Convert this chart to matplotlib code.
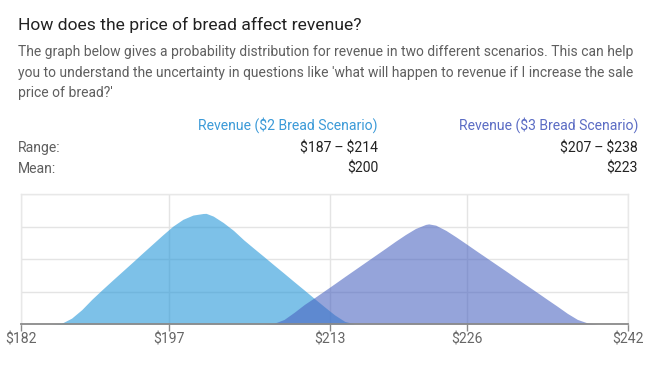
import matplotlib
matplotlib.use("Agg")
import matplotlib.pyplot as plt
from matplotlib.ticker import FixedLocator

plt.rcParams['font.family'] = ['Roboto', 'DejaVu Sans']
plt.rcParams['text.parse_math'] = False

# ---- data ----
title = "How does the price of bread affect revenue?"
subtitle_lines = ["The graph below gives a probability distribution for revenue in two different scenarios. This can help",
                  "you to understand the uncertainty in questions like 'what will happen to revenue if I increase the sale",
                  "price of bread?'"]
series_names = ["Revenue ($2 Bread Scenario)", "Revenue ($3 Bread Scenario)"]
ranges = ["$187\u2009\u2013\u2009$214", "$207\u2009\u2013\u2009$238"]
means = ["$200", "$223"]

x2 = [185, 186, 187, 188, 189, 190, 191, 192, 193, 194, 195, 196, 197, 198, 199, 200, 200.3,
      201, 202, 203, 204, 205, 206, 207, 208, 209, 210, 211, 212, 213, 214, 215]
y2 = [0.0, 0.005, 0.045, 0.11, 0.19, 0.263, 0.334, 0.404, 0.474, 0.545, 0.615, 0.685, 0.752, 0.805, 0.838, 0.85, 0.851,
      0.83, 0.78, 0.72, 0.648, 0.583, 0.519, 0.454, 0.39, 0.325, 0.261, 0.196, 0.132, 0.07, 0.02, 0.0]

x3 = [206, 207, 208, 209, 210, 211, 212, 213, 214, 215, 216, 217, 218, 219, 220, 221, 222, 222.3,
      223, 224, 225, 226, 227, 228, 229, 230, 231, 232, 233, 234, 235, 236, 237, 238, 239]
y3 = [0.0, 0.005, 0.035, 0.09, 0.15, 0.202, 0.256, 0.31, 0.365, 0.419, 0.473, 0.527, 0.581, 0.636, 0.688, 0.735, 0.766, 0.77,
      0.76, 0.72, 0.67, 0.617, 0.563, 0.51, 0.457, 0.404, 0.35, 0.297, 0.244, 0.19, 0.137, 0.082, 0.035, 0.008, 0.0]

tick_values = [182, 196.6, 212.5, 226.1, 242]
tick_labels = ["$182", "$197", "$213", "$226", "$242"]

# ---- figure ----
W, H = 656, 377
fig = plt.figure(figsize=(W / 100, H / 100), dpi=100)

def fx(px):
    return px / W

def fy(py):
    return 1 - py / H

fig.text(fx(18), fy(25), title, fontsize=12.6, color="#222222", va="center", ha="left")
for line, yy in zip(subtitle_lines, [52, 72.5, 93]):
    fig.text(fx(18), fy(yy), line, fontsize=10.0, color="#5f5f5f", va="center", ha="left")

c_blue_txt = "#3b9ad8"
c_purp_txt = "#5b6cc4"
fs = 10.1
fig.text(fx(378), fy(125), series_names[0], fontsize=fs, color=c_blue_txt, ha="right", va="center")
fig.text(fx(638), fy(125), series_names[1], fontsize=fs, color=c_purp_txt, ha="right", va="center")
fig.text(fx(18), fy(148), "Range:", fontsize=fs, color="#5f5f5f", ha="left", va="center")
fig.text(fx(18), fy(169), "Mean:", fontsize=fs, color="#5f5f5f", ha="left", va="center")
for xr, r, m in zip([378, 638], ranges, means):
    fig.text(fx(xr), fy(148), r, fontsize=fs, color="#222222", ha="right", va="center",
             family=["Roboto", "DejaVu Sans"])
    fig.text(fx(xr), fy(169), m, fontsize=fs, color="#222222", ha="right", va="center")

ax = fig.add_axes([fx(21), fy(324), fx(628) - fx(21), fy(194) - fy(324)])
ax.set_xlim(182, 242)
ax.set_ylim(0, 1)

ax.fill_between(x2, y2, 0, color=(38/255, 152/255, 217/255), alpha=0.6, linewidth=0, zorder=2)
ax.fill_between(x3, y3, 0, color=(72/255, 98/255, 192/255), alpha=0.58, linewidth=0, zorder=3)

ax.xaxis.set_major_locator(FixedLocator(tick_values))
ax.set_xticklabels(tick_labels)
ax.set_yticks([0.25, 0.5, 0.75, 1.0])
ax.set_yticklabels([])
ax.tick_params(axis="y", length=0)
ax.tick_params(axis="x", length=5, width=1, color="#8a8a8a", labelsize=10.1,
               labelcolor="#666666", pad=1, direction="out")
ax.grid(True, color="#e4e4e4", linewidth=1, zorder=0)
ax.set_axisbelow(True)
for s in ["top", "left", "right"]:
    ax.spines[s].set_color("#e8e8e8")
    ax.spines[s].set_linewidth(1)
ax.spines["bottom"].set_color("#8a8a8a")
ax.spines["bottom"].set_linewidth(1.3)
ax.spines["bottom"].set_zorder(5)

fig.savefig("out.png", dpi=100)
